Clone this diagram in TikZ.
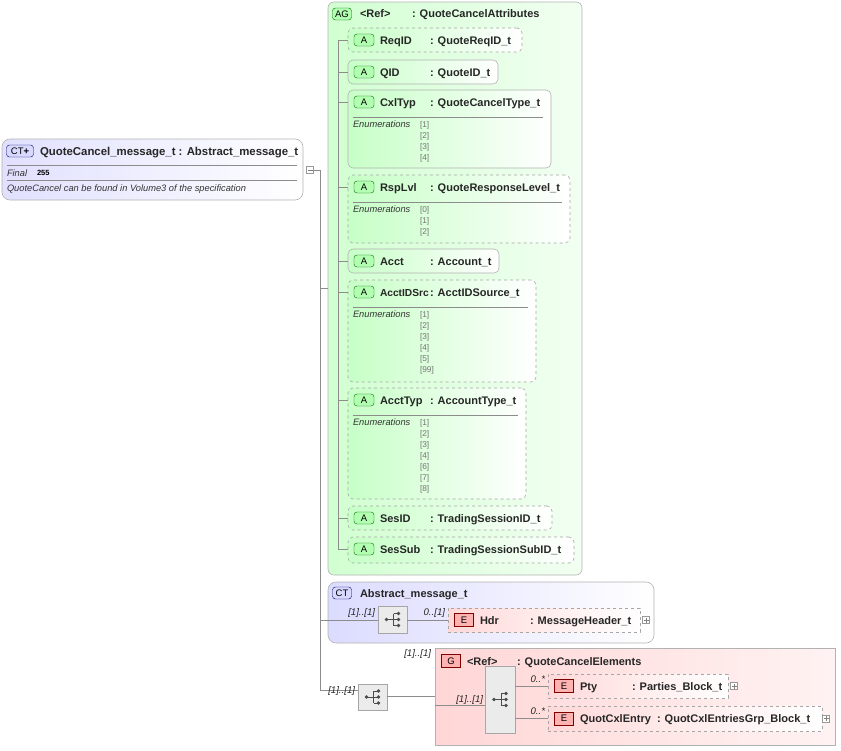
\documentclass[tikz,border=0pt]{standalone}
\usepackage{fontspec}
\setmainfont{Liberation Sans}
\begin{document}
\begin{tikzpicture}[x=1pt,y=-1pt,
  every node/.style={inner sep=0, outer sep=0},
  lbl/.style={anchor=base west, font=\fontsize{11}{12}\selectfont\bfseries, text=black!85},
  it/.style={anchor=base west, font=\fontsize{9.3}{10}\selectfont\itshape, text=black!80},
  enumv/.style={anchor=base west, font=\fontsize{8.3}{9}\selectfont, text=black!55},
  mult/.style={anchor=base east, font=\fontsize{9.6}{10}\selectfont\itshape, text=black!85},
  conn/.style={draw=black!45, line width=0.5pt},
  frame/.style={draw=black!30, line width=0.6pt, anchor=north west},
  attrS/.style={frame, rounded corners=5, left color=green!22!white, right color=white},
  attrD/.style={attrS, dashed, draw=black!35},
  elemD/.style={frame, dashed, draw=black!35, left color=red!15!white, right color=white},
  abadge/.style={draw=green!40!black, fill=green!30!white, rounded corners=3, minimum width=20, minimum height=12, font=\fontsize{9.5}{10}\selectfont, text=black},
  ebadge/.style={draw=red!50!black, fill=red!30!white, minimum width=19, minimum height=13, font=\fontsize{9.5}{10}\selectfont, text=black},
  ctbadge/.style={draw=blue!40!black, fill=blue!15!white, rounded corners=3, minimum height=12, inner xsep=2, font=\fontsize{9.5}{10}\selectfont, text=black},
  seqbox/.style={frame, fill=black!8, draw=black!35},
  plusb/.style={draw=black!40, fill=white, minimum size=7},
]
\useasboundingbox (0,0) rectangle (841,750);
\newcommand{\seqicon}[2]{%
  \fill[black!70] (#1-6,#2) circle (1.9);
  \draw[black!70, line width=0.8pt] (#1-6,#2) -- (#1+1,#2) (#1+1,#2-6) -- (#1+1,#2+6)
     (#1+1,#2-6) -- (#1+6,#2-6) (#1+1,#2) -- (#1+6,#2) (#1+1,#2+6) -- (#1+6,#2+6);
  \fill[black!70] (#1+6,#2-6) circle (1.9) (#1+6,#2) circle (1.9) (#1+6,#2+6) circle (1.9);}
% ---- main CT box
\node[frame, rounded corners=8, left color=blue!12!white, right color=white, minimum width=301, minimum height=61] (main) at (2,139) {};
\node[ctbadge, minimum width=27] (mainbadge) at (20,151) {CT\textbf{+}};
\node[lbl, font=\fontsize{11.4}{12}\selectfont\bfseries] (maint) at (40,155) {QuoteCancel\_message\_t : Abstract\_message\_t};
\draw[black!45] (7,165) -- (297,165) (7,180) -- (297,180);
\node[it] (fin) at (7,176) {Final};
\node[anchor=base west, font=\fontsize{7.5}{8}\selectfont\bfseries] (fv) at (37,175.5) {255};
\node[it] (desc) at (7,191) {QuoteCancel can be found in Volume3 of the specification};
\node[plusb, minimum size=7] (minus) at (310,170) {};
\draw[black!50] (307.5,170) -- (312.5,170);
\coordinate (trunk) at (320,170);
\coordinate (trunkend) at (320,690);
\draw[conn] (minus.east) -- (trunk) -- (trunkend);
% ---- AG box
\node[frame, rounded corners=6, left color=green!18!white, right color=green!5!white, minimum width=254, minimum height=573] (ag) at (328,2) {};
\node[abadge, minimum width=19] (agb) at (342,14) {AG};
\node[lbl] (agr) at (360,17.5) {<Ref>};
\node[lbl] (agt) at (412,17.5) {: QuoteCancelAttributes};
\coordinate (agbr) at (320,288);
\draw[conn] (agbr) -- (ag.west |- agbr);
\coordinate (inner1) at (338,40);
\coordinate (inner2) at (338,550);
\draw[conn] (inner1) -- (inner2);
\newcommand{\attr}[7]{%
  \node[#2, minimum width=#5-348, minimum height=#4-#3] (#1) at (348,#3) {};
  \node[abadge] (#1b) at (364,#3+12) {A};
  \node[lbl] (#1n) at (380,#3+16) {#6};
  \node[lbl] (#1t) at (430,#3+16) {#7};
  \draw[conn] (338,#3+12) -- (#1.west |- 338,#3+12);}
\newcommand{\enums}[3]{%
  \draw[black!45] (353,#1+27) -- (#2-8,#1+27);
  \node[it] at (353,#1+37) {Enumerations};
  \foreach \v [count=\i from 0] in {#3} {\node[enumv] at (420,#1+37+11*\i) {[\v]};}}
\attr{reqid}{attrD}{28}{52}{522}{ReqID}{: QuoteReqID\_t}
\attr{qid}{attrS}{60}{84}{498}{QID}{: QuoteID\_t}
\attr{cxl}{attrS}{90}{168}{551}{CxlTyp}{: QuoteCancelType\_t}
\enums{90}{551}{1,2,3,4}
\attr{rsp}{attrD}{175}{243}{570}{RspLvl}{: QuoteResponseLevel\_t}
\enums{175}{570}{0,1,2}
\attr{acct}{attrS}{249}{273}{499}{Acct}{: Account\_t}
\attr{aids}{attrD}{280}{382}{536}{\fontsize{10.2}{11}\selectfont AcctIDSrc}{: AcctIDSource\_t}
\enums{280}{536}{1,2,3,4,5,99}
\attr{atyp}{attrD}{388}{499}{526}{AcctTyp}{: AccountType\_t}
\enums{388}{526}{1,2,3,4,6,7,8}
\attr{sesid}{attrD}{506}{530}{552}{SesID}{: TradingSessionID\_t}
\attr{sessub}{attrD}{537}{563}{574}{SesSub}{: TradingSessionSubID\_t}
% ---- Abstract CT
\node[frame, rounded corners=8, left color=blue!14!white, right color=white, minimum width=326, minimum height=61] (abs) at (328,582) {};
\node[ctbadge, minimum width=19] (absb) at (342,593) {CT};
\node[lbl] (abst) at (360,597) {Abstract\_message\_t};
\coordinate (absbr) at (320,620);
\node[seqbox, minimum width=29, minimum height=27] (seq1) at (378,606) {};
\seqicon{392.5}{619.5}
\draw[conn] (absbr) -- (seq1.west |- absbr);
\node[mult] (m1) at (375,615) {[1]..[1]};
\node[elemD, minimum width=192, minimum height=24] (hdr) at (448,608) {};
\draw[conn] (seq1.east |- hdr.west) -- (hdr.west);
\node[mult] (m2) at (445,615) {0..[1]};
\node[ebadge] (hdrb) at (464,620) {E};
\node[lbl] (hdrn) at (480,624) {Hdr};
\node[lbl] (hdrt) at (530,624) {: MessageHeader\_t};
\node[plusb] (hdrp) at (646,620) {};
\draw[black!50] (643.5,620) -- (648.5,620) (646,617.5) -- (646,622.5);
% ---- bottom sequence and group
\node[seqbox, minimum width=29, minimum height=26] (seq2) at (358,684) {};
\seqicon{372.5}{697}
\draw[conn] (trunkend) -- (seq2.west |- trunkend);
\node[mult] (m3) at (355,693) {[1]..[1]};
\node[frame, left color=red!16!white, right color=red!5!white, minimum width=400, minimum height=97] (grp) at (435,648) {};
\draw[conn] (seq2.east |- grp.west) -- (grp.west);
\node[mult] (m4) at (431,656) {[1]..[1]};
\node[ebadge] (gb) at (451,661) {G};
\node[lbl] (gr) at (467,665) {<Ref>};
\node[lbl] (gt) at (517,665) {: QuoteCancelElements};
\node[seqbox, minimum width=30, minimum height=67] (seq3) at (485,666) {};
\seqicon{500}{699.5}
\coordinate (gin) at (435,705);
\draw[conn] (gin) -- (seq3.west |- gin);
\node[mult] (m5) at (483,702) {[1]..[1]};
\node[elemD, minimum width=180, minimum height=24] (pty) at (548,674) {};
\node[elemD, minimum width=274, minimum height=25] (qce) at (548,706) {};
\draw[conn] (seq3.east |- pty.west) -- (pty.west);
\draw[conn] (seq3.east |- qce.west) -- (qce.west);
\node[mult] (m6) at (545,682) {0..*};
\node[mult] (m7) at (545,714) {0..*};
\node[ebadge] (ptyb) at (564,686) {E};
\node[lbl] (ptyn) at (580,690) {Pty};
\node[lbl] (ptyt) at (632,690) {: Parties\_Block\_t};
\node[plusb] (ptyp) at (734,686) {};
\draw[black!50] (731.5,686) -- (736.5,686) (734,683.5) -- (734,688.5);
\node[ebadge] (qceb) at (564,718.5) {E};
\node[lbl] (qcen) at (580,722.5) {QuotCxlEntry};
\node[lbl] (qcet) at (657,722.5) {: QuotCxlEntriesGrp\_Block\_t};
\node[plusb] (qcep) at (826,718.5) {};
\draw[black!50] (823.5,718.5) -- (828.5,718.5) (826,716) -- (826,721);
\end{tikzpicture}
\end{document}
